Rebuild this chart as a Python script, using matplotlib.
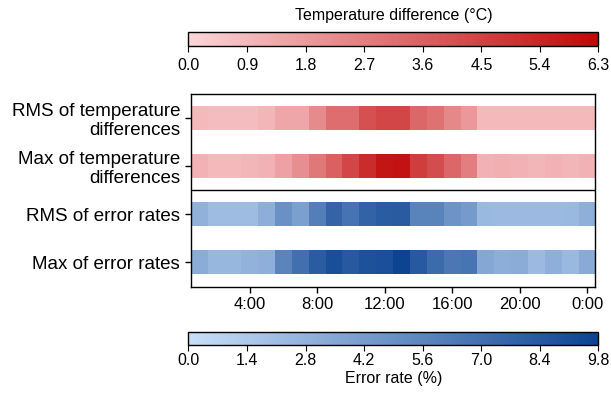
import numpy as np
import matplotlib.pyplot as plt
from matplotlib.colors import LinearSegmentedColormap

plt.rcParams['font.family'] = ['Liberation Sans', 'DejaVu Sans']

# hourly values, hour 1 .. 24
hours = np.arange(1, 25)
rms_temp = [0.9, 0.8, 0.8, 0.8, 1.0, 1.5, 1.5, 2.3, 3.2, 3.2, 4.1, 4.4,
            4.4, 3.4, 3.1, 2.4, 1.9, 0.9, 0.9, 0.9, 0.9, 0.9, 0.9, 0.9]
max_temp = [1.1, 0.9, 0.9, 1.0, 1.1, 1.6, 2.2, 2.9, 3.6, 4.4, 5.2, 5.9,
            6.0, 4.7, 4.2, 3.4, 2.7, 1.1, 1.2, 1.1, 1.0, 1.1, 1.0, 1.1]
rms_err = [2.9, 2.2, 2.2, 2.2, 3.1, 4.9, 4.0, 6.1, 7.7, 6.8, 7.8, 8.2,
           8.3, 5.8, 5.8, 4.7, 4.3, 2.4, 2.3, 2.3, 2.3, 2.3, 2.4, 3.0]
max_err = [3.2, 2.5, 2.5, 2.8, 3.0, 5.7, 7.0, 8.2, 9.1, 8.4, 8.9, 9.0,
           9.7, 8.4, 7.3, 6.5, 6.7, 3.5, 3.1, 3.2, 2.3, 3.0, 2.4, 3.3]

row_labels = ['RMS of temperature\ndifferences', 'Max of temperature\ndifferences',
              'RMS of error rates', 'Max of error rates']
xtick_pos = [4, 8, 12, 16, 20, 24]
xtick_labels = ['4:00', '8:00', '12:00', '16:00', '20:00', '0:00']

temp_max = 6.3
err_max = 9.8

reds = LinearSegmentedColormap.from_list('reds', ['#fcd6d9', '#c00808'])
blues = LinearSegmentedColormap.from_list('blues', ['#c8dff9', '#0c4391'])

fig = plt.figure(figsize=(6.11, 3.97), dpi=100)
ax = fig.add_axes([0.312, 0.277, 0.6626, 0.4861])

x_edges = np.append(hours - 0.5, hours[-1] + 0.5)
rows = [(rms_temp, reds, temp_max), (max_temp, reds, temp_max),
        (rms_err, blues, err_max), (max_err, blues, err_max)]
meshes = []
for i, (vals, cmap, vmax) in enumerate(rows):
    m = ax.pcolormesh(x_edges, [i - 0.25, i + 0.25], np.array(vals)[None, :],
                      cmap=cmap, vmin=0, vmax=vmax)
    meshes.append(m)

ax.axhline(1.5, color='black', lw=1)
ax.set_xlim(0.5, 24.5)
ax.set_ylim(3.52, -0.5)
ax.set_yticks(range(4))
ax.set_yticklabels(row_labels, fontsize=13.5, linespacing=1.15)
ax.set_xticks(xtick_pos)
ax.set_xticklabels(xtick_labels, fontsize=12)
ax.tick_params(length=4, width=1)
for s in ax.spines.values():
    s.set_linewidth(1)

# temperature colorbar on top
cax1 = fig.add_axes([0.3085, 0.8829, 0.671, 0.0358])
cb1 = fig.colorbar(meshes[0], cax=cax1, orientation='horizontal',
                   ticks=np.linspace(0, temp_max, 8), format='%.1f')
cb1.ax.tick_params(labelsize=11.5, length=4, pad=4)
cb1.outline.set_linewidth(1)
cax1.set_title('Temperature difference (°C)', fontsize=11.5, pad=9)

# error rate colorbar below
cax2 = fig.add_axes([0.3085, 0.131, 0.671, 0.0335])
cb2 = fig.colorbar(meshes[2], cax=cax2, orientation='horizontal',
                   ticks=np.linspace(0, err_max, 8), format='%.1f')
cb2.ax.tick_params(labelsize=11.5, length=4, pad=2)
cb2.outline.set_linewidth(1)
cb2.set_label('Error rate (%)', fontsize=11.5, labelpad=2)

fig.savefig('out.png', dpi=100)
